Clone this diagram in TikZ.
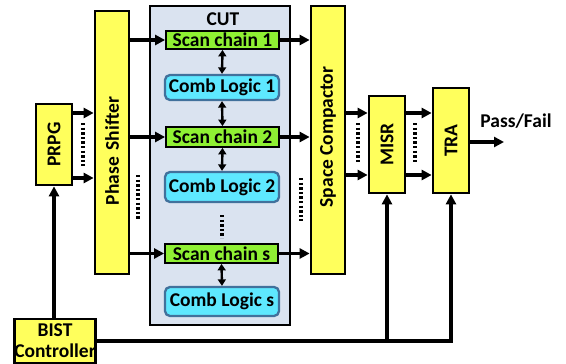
\documentclass[tikz,border=0pt]{standalone}
\usepackage{fontspec}
\setmainfont{Carlito}
\usetikzlibrary{arrows.meta}
\definecolor{ylw}{HTML}{FFFF5C}
\definecolor{grn}{HTML}{8FF033}
\definecolor{cyn}{HTML}{5EE8FF}
\definecolor{bdr}{HTML}{41719C}
\definecolor{cutbg}{HTML}{DAE3F0}
\tikzset{
  txt/.style={font=\fontsize{19.5}{21}\selectfont\bfseries},
  ybox/.style={draw=black, line width=2.7pt, fill=ylw, inner sep=0pt, txt},
  scbox/.style={draw=black, line width=1.8pt, fill=grn, inner sep=0pt, minimum width=113pt, txt},
  clbox/.style={draw=bdr, line width=2.3pt, fill=cyn, rounded corners=5pt, inner sep=0pt, minimum width=114pt, txt},
  conn/.style={line width=3.2pt, -{Triangle[length=10pt,width=10pt]}},
  dbl/.style={line width=2.4pt, {Triangle[length=6.5pt,width=8pt]}-{Triangle[length=6.5pt,width=8pt]}},
  dots/.style={line width=3.6pt, dash pattern=on 2.4pt off 2.2pt},
}
\begin{document}
\begin{tikzpicture}[x=1pt,y=-1pt]
\useasboundingbox (0,0) rectangle (566,364);
% CUT
\node[draw=black, line width=2.6pt, fill=cutbg, minimum width=140pt, minimum height=319pt, inner sep=0pt] (cut) at (220,165.5) {};
\node[txt] (cutlbl) at (223,19) {CUT};
\node[scbox, minimum height=18pt] (sc1) at (222.5,40) {Scan chain 1};
\node[clbox, minimum height=25pt] (cl1) at (222,87.5) {Comb Logic 1};
\node[scbox, minimum height=20pt] (sc2) at (222.5,137) {Scan chain 2};
\node[clbox, minimum height=30pt] (cl2) at (222,187) {Comb Logic 2};
\node[scbox, minimum height=19pt] (scs) at (221.5,253.5) {Scan chain s};
\node[clbox, minimum height=29pt] (cls) at (222,301.5) {Comb Logic s};
\coordinate (cdA) at (222,215);
\coordinate (cdB) at (222,238);
\draw[dots] (cdA) -- (cdB);
\draw[dbl] (sc1.south) -- (cl1.north);
\draw[dbl] (cl1.south) -- (sc2.north);
\draw[dbl] (sc2.south) -- (cl2.north);
\draw[dbl] (scs.south) -- (cls.north);
% left blocks
\node[ybox, minimum width=36pt, minimum height=81pt] (prpg) at (54,144.5) {};
\node[txt, rotate=90] (prpglbl) at (prpg.center) {PRPG};
\node[ybox, minimum width=34pt, minimum height=263pt] (ps) at (112,142.5) {};
\node[txt, rotate=90] (pslbl) at (112,151) {Phase\hspace{0.35em}Shifter};
\node[ybox, minimum width=34pt, minimum height=268pt] (spc) at (328,140) {};
\node[txt, rotate=90] (spclbl) at (328,137) {Space Compactor};
\node[ybox, minimum width=36pt, minimum height=97pt] (misr) at (387,144.5) {};
\node[txt, rotate=90] (misrlbl) at (misr.center) {MISR};
\node[ybox, minimum width=36pt, minimum height=105pt] (tra) at (451,140.5) {};
\node[txt, rotate=90] (tralbl) at (tra.center) {TRA};
\node[ybox, minimum width=80pt, minimum height=44pt, align=center] (bist) at (55,341) {BIST\\Controller};
\node[txt] (pf) at (516,121) {Pass/Fail};
% PRPG -> PS
\draw[conn] (prpg.east |- 0,113) -- (ps.west |- 0,113);
\draw[conn] (prpg.east |- 0,178) -- (ps.west |- 0,178);
\draw[dots] (83,123) -- (83,166);
% PS -> scan chains
\draw[conn] (ps.east |- sc1.west) -- (sc1.west);
\draw[conn] (ps.east |- sc2.west) -- (sc2.west);
\draw[conn] (ps.east |- scs.west) -- (scs.west);
\draw[dots] (138,175) -- (138,219);
% scan chains -> SC
\draw[conn] (sc1.east) -- (spc.west |- sc1.east);
\draw[conn] (sc2.east) -- (spc.west |- sc2.east);
\draw[conn] (scs.east) -- (spc.west |- scs.east);
\draw[dots] (301,178) -- (301,221);
% SC -> MISR -> TRA
\draw[conn] (spc.east |- 0,113) -- (misr.west |- 0,113);
\draw[conn] (spc.east |- 0,175) -- (misr.west |- 0,175);
\draw[dots] (358,123) -- (358,164);
\draw[conn] (misr.east |- 0,113) -- (tra.west |- 0,113);
\draw[conn] (misr.east |- 0,175) -- (tra.west |- 0,175);
\draw[dots] (415,123) -- (415,164);
\draw[conn] (tra.east |- 0,142) -- (504,142);
% BIST
\draw[conn] (bist.north -| prpg.south) -- (prpg.south);
\draw[conn] (bist.east) -| (tra.south);
\draw[conn] (misr.south |- bist.east) -- (misr.south);
\end{tikzpicture}
\end{document}
